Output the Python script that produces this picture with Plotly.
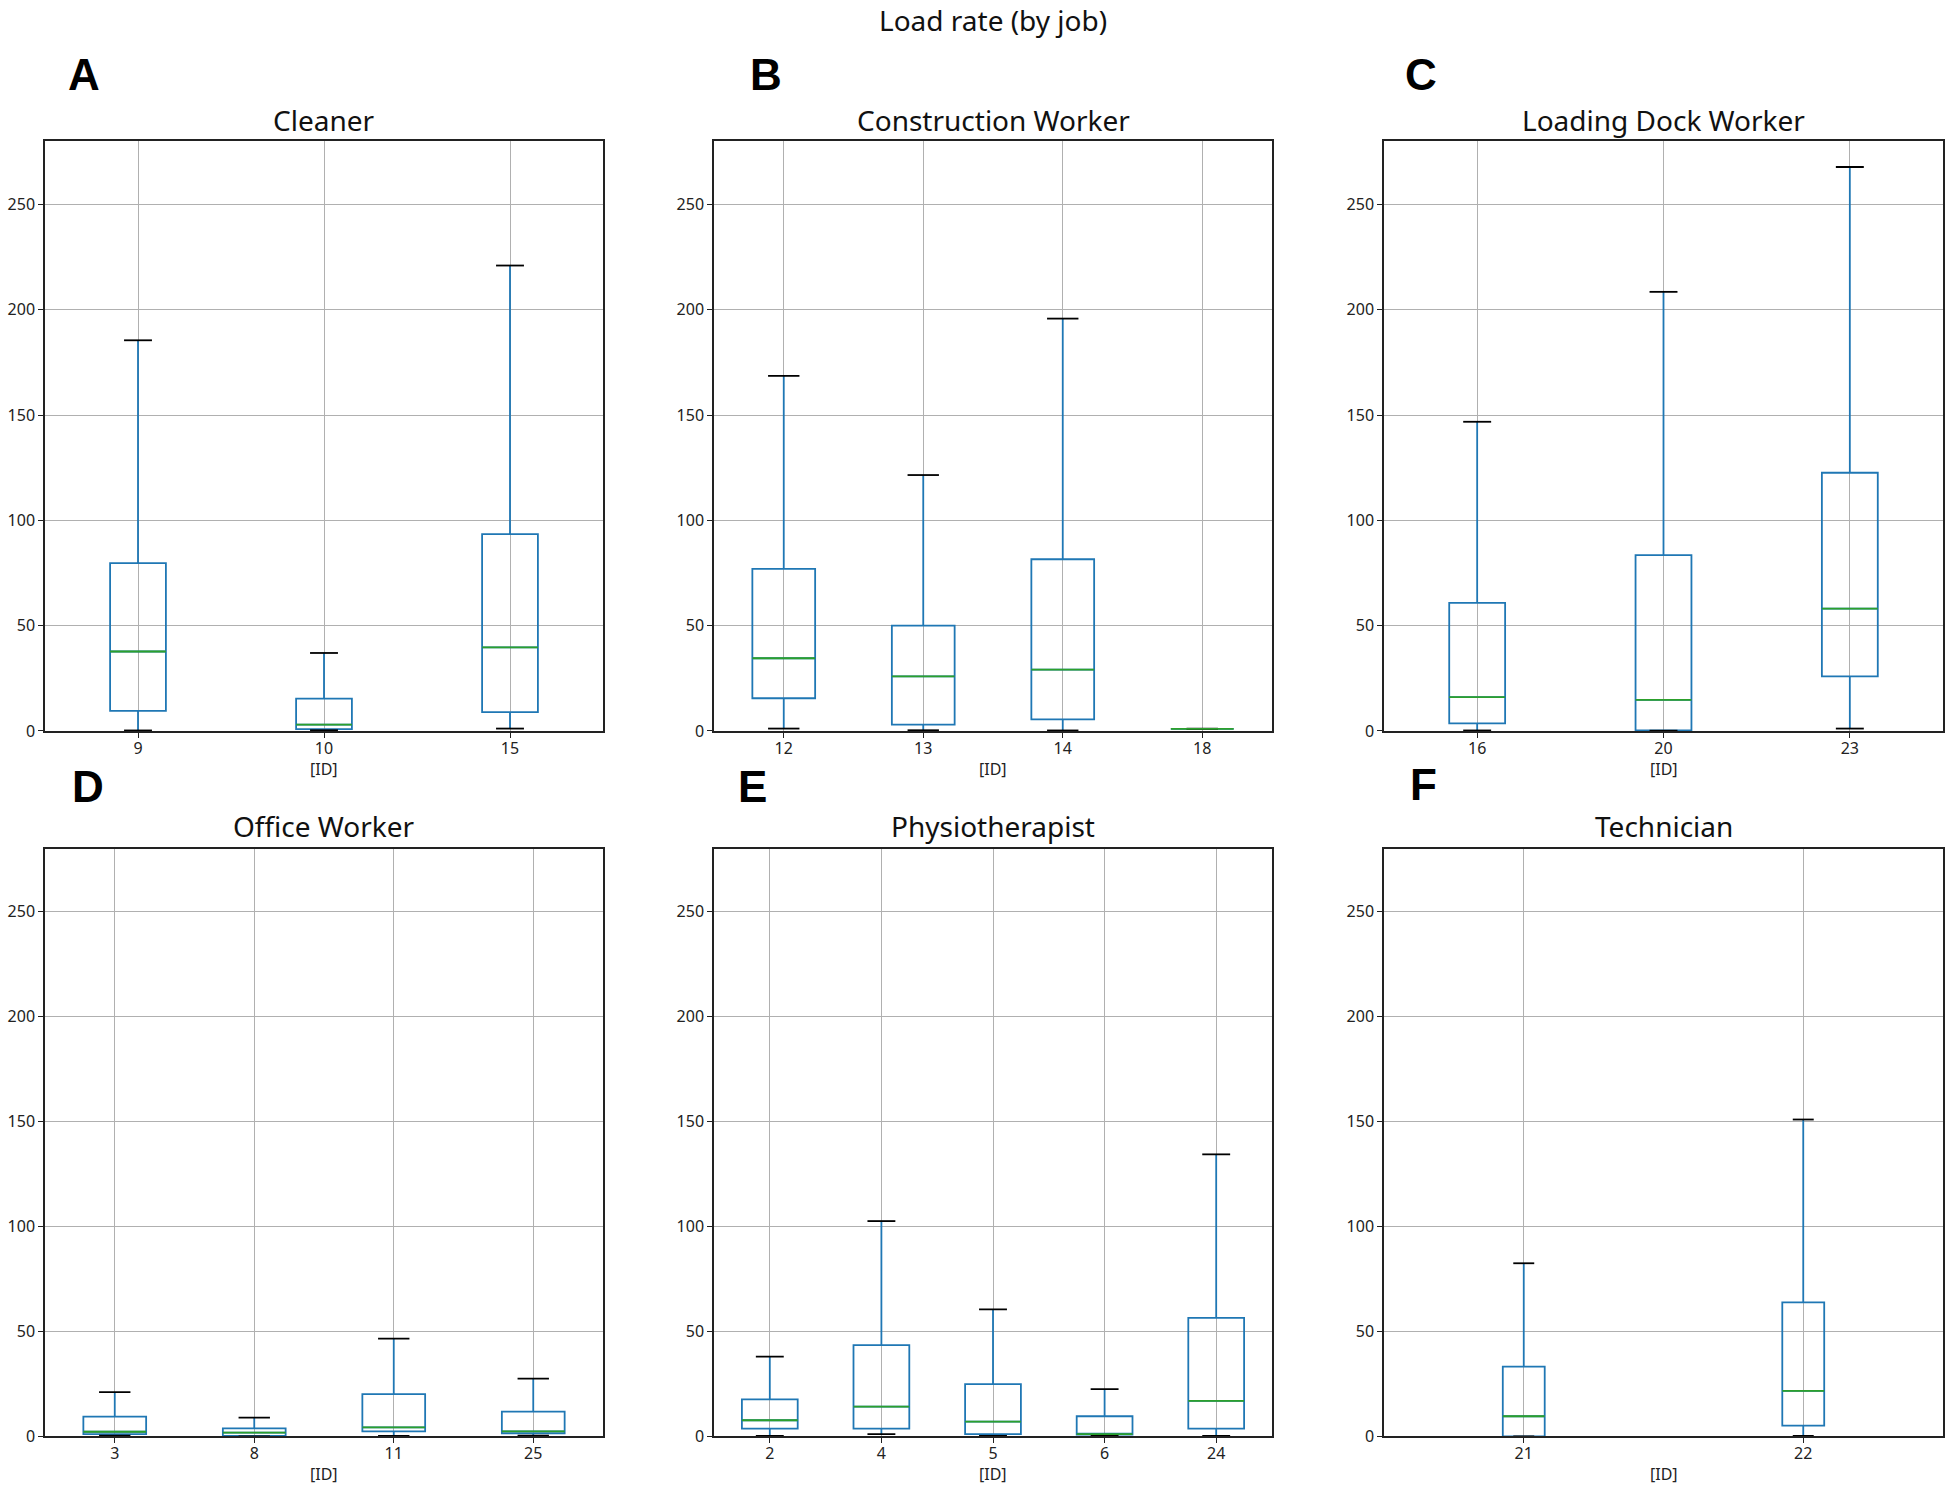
import plotly.graph_objects as go

# ---------------- data ----------------
jobs = ["Cleaner", "Construction Worker", "Loading Dock Worker",
        "Office Worker", "Physiotherapist", "Technician"]
letters = ["A", "B", "C", "D", "E", "F"]

ids_A = ["9", "10", "15"]
low_A = [0.2, 0.3, 1.1]
q1_A = [9.5, 0.8, 8.9]
med_A = [37.7, 3.0, 39.7]
q3_A = [79.7, 15.3, 93.4]
up_A = [185.5, 37.0, 221.0]

ids_B = ["12", "13", "14", "18"]
low_B = [1.1, 0.3, 0.2, 1.0]
q1_B = [15.5, 3.0, 5.5, 1.0]
med_B = [34.5, 25.9, 29.1, 1.0]
q3_B = [76.9, 50.0, 81.5, 1.0]
up_B = [168.6, 121.5, 195.8, 1.0]

ids_C = ["16", "20", "23"]
low_C = [0.2, 0.1, 1.1]
q1_C = [3.6, 0.2, 25.9]
med_C = [16.0, 14.7, 58.1]
q3_C = [60.8, 83.5, 122.6]
up_C = [146.8, 208.5, 267.8]

ids_D = ["3", "8", "11", "25"]
low_D = [0.3, 0.0, 0.2, 0.3]
q1_D = [1.1, 0.2, 2.4, 1.4]
med_D = [2.2, 1.8, 4.3, 2.4]
q3_D = [9.4, 3.8, 20.1, 11.8]
up_D = [21.1, 8.9, 46.6, 27.5]

ids_E = ["2", "4", "5", "6", "24"]
low_E = [0.2, 1.1, 0.2, 0.2, 0.2]
q1_E = [3.7, 3.7, 1.1, 0.8, 3.7]
med_E = [7.7, 14.2, 7.0, 1.1, 16.9]
q3_E = [17.6, 43.5, 24.9, 9.6, 56.5]
up_E = [38.0, 102.6, 60.5, 22.5, 134.4]

ids_F = ["21", "22"]
low_F = [0.0, 0.2]
q1_F = [0.0, 5.1]
med_F = [9.6, 21.7]
q3_F = [33.2, 63.9]
up_F = [82.5, 151.0]

y_ticks = [0, 50, 100, 150, 200, 250]

panels = [
    (ids_A, low_A, q1_A, med_A, q3_A, up_A),
    (ids_B, low_B, q1_B, med_B, q3_B, up_B),
    (ids_C, low_C, q1_C, med_C, q3_C, up_C),
    (ids_D, low_D, q1_D, med_D, q3_D, up_D),
    (ids_E, low_E, q1_E, med_E, q3_E, up_E),
    (ids_F, low_F, q1_F, med_F, q3_F, up_F),
]

# ---------------- layout geometry (pixels) ----------------
W, H = 1946, 1487
xdoms = [(45, 603), (714, 1272), (1384, 1943)]
ydoms = [(140, 730), (848, 1436)]
YS, YO = 0.9933, 1.4   # vertical calibration


def px(x):
    return x / W


def py(y):
    return 1 - ((y + YO) / YS) / H


BLUE = "#1f77b4"
GREEN = "#2ca02c"
FONT = "Noto Sans"

fig = go.Figure()
layout = dict(
    width=W, height=H, margin=dict(l=0, r=0, t=0, b=0),
    paper_bgcolor="white", plot_bgcolor="white", showlegend=False,
    font=dict(family=FONT, color="#222", size=16),
)
annotations = []

for i, (ids, low, q1, med, q3, up) in enumerate(panels):
    r, c = divmod(i, 3)
    k = "" if i == 0 else str(i + 1)
    xa, ya = "x" + k, "y" + k
    n = len(ids)
    pos = list(range(1, n + 1))
    w = min(0.15 * max(n - 1, 1), 0.5)

    fig.add_trace(go.Box(
        x=pos, q1=q1, median=med, q3=q3, lowerfence=low, upperfence=up,
        width=w, whiskerwidth=0, boxpoints=False,
        line=dict(color=BLUE, width=1.8), fillcolor="rgba(0,0,0,0)",
        xaxis=xa, yaxis=ya, hoverinfo="skip",
    ))
    # caps
    cx, cy = [], []
    for p, lo, hi in zip(pos, low, up):
        cx += [p - w / 4, p + w / 4, None, p - w / 4, p + w / 4, None]
        cy += [hi, hi, None, lo, lo, None]
    fig.add_trace(go.Scatter(x=cx, y=cy, mode="lines",
                             line=dict(color="black", width=1.8),
                             xaxis=xa, yaxis=ya, hoverinfo="skip"))
    # medians
    mx, my = [], []
    for p, m in zip(pos, med):
        mx += [p - w / 2, p + w / 2, None]
        my += [m, m, None]
    fig.add_trace(go.Scatter(x=mx, y=my, mode="lines",
                             line=dict(color=GREEN, width=1.8),
                             xaxis=xa, yaxis=ya, hoverinfo="skip"))

    x0, x1 = xdoms[c]
    y0, y1 = ydoms[r]
    common = dict(showline=True, mirror=True, linecolor="#222", linewidth=1.5,
                  showgrid=True, gridcolor="#b0b0b0", gridwidth=1,
                  zeroline=False, ticks="outside", ticklen=5, tickwidth=1.2,
                  tickcolor="#222", tickfont=dict(size=16, family=FONT, color="#222"))
    layout["xaxis" + k] = dict(
        domain=[px(x0), px(x1)], anchor=ya, range=[0.5, n + 0.5],
        tickvals=pos, ticktext=ids, ticklabelstandoff=-3, **common)
    layout["yaxis" + k] = dict(
        domain=[py(y1), py(y0)], anchor=xa, range=[0, 280],
        tickvals=y_ticks, **common)

    xc = px((x0 + x1) / 2)
    # subplot title
    annotations.append(dict(text=jobs[i], x=xc, y=py(y0 - 21 - 2 * r),
                            xref="paper", yref="paper", showarrow=False,
                            xanchor="center", yanchor="middle",
                            font=dict(size=28, family=FONT, color="#111")))
    # x axis title
    annotations.append(dict(text="[ID]", x=xc, y=py(y1 + 38),
                            xref="paper", yref="paper", showarrow=False,
                            xanchor="center", yanchor="middle",
                            font=dict(size=16, family=FONT, color="#222")))

letter_pos = [(84, 73), (766, 73), (1421, 73), (88, 786), (752, 786), (1423, 784)]
for L, (lx, ly) in zip(letters, letter_pos):
    annotations.append(dict(text="<b>" + L + "</b>", x=px(lx), y=py(ly),
                            xref="paper", yref="paper", showarrow=False,
                            xanchor="center", yanchor="middle",
                            font=dict(size=44, family="Liberation Sans", color="black")))

annotations.append(dict(text="Load rate (by job)", x=px(993), y=1,
                        xref="paper", yref="paper", showarrow=False,
                        xanchor="center", yanchor="top", borderpad=0,
                        font=dict(size=28, family=FONT, color="#111")))

layout["annotations"] = annotations
fig.update_layout(**layout)

page_fit = ("document.body.style.margin='0';"
            "document.body.style.height='1487px';"
            "document.body.style.overflow='hidden';"
            "document.documentElement.style.overflow='hidden';")
fig.write_html("out.html", post_script=page_fit,
               config={"displayModeBar": False})
